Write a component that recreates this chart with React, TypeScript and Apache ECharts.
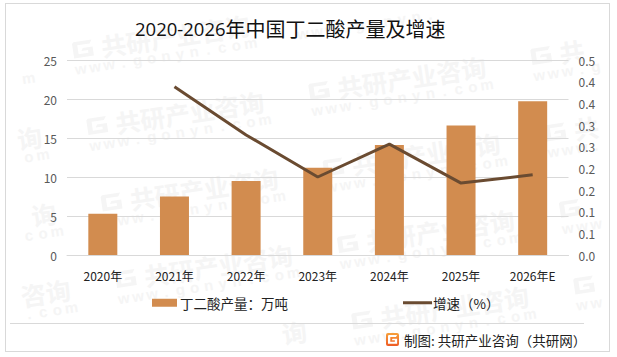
import React, { useEffect, useRef } from "react";
import * as echarts from "echarts";

const categories = ["2020年", "2021年", "2022年", "2023年", "2024年", "2025年", "2026年E"];
const output = [5.3, 7.5, 9.5, 11.2, 14.1, 16.6, 19.7];
const growth = [null, 0.388, 0.277, 0.18, 0.256, 0.166, 0.185];
const rightTickLabels = ["0.0", "0.1", "0.1", "0.2", "0.2", "0.3", "0.3", "0.4", "0.4", "0.5"];
const barName = "丁二酸产量：万吨";
const lineName = "增速（%）";
const titleYears = "2020-2026";
const titleRest = "年中国丁二酸产量及增速";
const sourceText = "制图: 共研产业咨询（共研网）";
const brandChars = ["共", "研", "产", "业", "咨", "询"];
const siteChars = ["w", "w", "w", ".", "g", "o", "n", "y", "n", ".", "c", "o", "m"];

const CJK = '"Noto Sans CJK SC", sans-serif';
const MARK = "#f5f5f5";
const FRAME = "#d9d9d9";
const ANGLE = 0.15;

echarts.graphic.registerShape(
  "gLogo",
  echarts.graphic.extendPath("M2 0H24L21 5H6V18H18V14H10L12 10H24V23H0V2Z", {}) as any
);

// One faint repeat of the watermark, placed glyph by glyph: glyphs that would
// cross the frame are left out, as the frame hides them in the reference.
function watermark(x: number, y: number) {
  const out: any[] = [];
  const cos = Math.cos(ANGLE);
  const sin = Math.sin(ANGLE);
  const at = (u: number, v: number) => [x + u * cos + v * sin, y - u * sin + v * cos];
  const inside = (p: number[], m: number) =>
    p[0] - m > 7 && p[0] + m < 608 && p[1] - m > 5 && p[1] + m < 350;
  const [lx, ly] = at(0, -8);
  if (inside(at(10, 0), 11)) {
    out.push({
      type: "gLogo",
      silent: true,
      x: lx,
      y: ly,
      rotation: ANGLE,
      scaleX: 0.83,
      scaleY: 0.7,
      style: { fill: MARK },
    });
  }
  brandChars.forEach((ch, i) => {
    const p = at(41 + 25 * i, 0);
    if (inside(p, 15)) {
      out.push({
        type: "text",
        silent: true,
        x: p[0],
        y: p[1],
        rotation: ANGLE,
        style: {
          text: ch,
          fill: MARK,
          font: `bold 25px ${CJK}`,
          align: "center",
          verticalAlign: "middle",
        },
      });
    }
  });
  siteChars.forEach((ch, i) => {
    const p = at(5 + 14.3 * i, 19);
    if (inside(p, 9)) {
      out.push({
        type: "text",
        silent: true,
        x: p[0],
        y: p[1],
        rotation: ANGLE,
        style: {
          text: ch,
          fill: MARK,
          font: `bold 15px "Liberation Sans", sans-serif`,
          align: "center",
          verticalAlign: "middle",
        },
      });
    }
  });
  return out;
}

function watermarks() {
  const out: any[] = [];
  for (let c = -1; c <= 3; c++) {
    for (let r = -1; r <= 5; r++) {
      const x = 73 + 222 * c + 14.3 * r;
      const y = 50.5 - 35 * c + 76.5 * r;
      out.push(...watermark(x, y));
    }
  }
  return out;
}

const rule = (left: number, top: number, width: number, height: number): React.CSSProperties => ({
  position: "absolute",
  left,
  top,
  width,
  height,
  background: FRAME,
});

export default function App() {
  const ref = useRef<HTMLDivElement>(null);
  useEffect(() => {
    const chart = echarts.init(ref.current!, null, { renderer: "svg" });
    chart.setOption({
      animation: false,
      backgroundColor: "#ffffff",
      textStyle: { fontFamily: CJK },
      title: {
        text: `{a|${titleYears}}{b|${titleRest}}`,
        left: 135,
        top: 18,
        padding: 0,
        textStyle: {
          fontWeight: "normal",
          rich: {
            a: { fontFamily: '"Open Sans", sans-serif', fontSize: 18.5, color: "#111111", fontWeight: "normal" },
            b: { fontFamily: CJK, fontSize: 20, color: "#111111", fontWeight: "normal" },
          },
        },
      },
      grid: { left: 67, right: 48.5, top: 60, bottom: 102, containLabel: false },
      legend: [
        {
          data: [{ name: barName, icon: "rect" }],
          left: 152,
          top: 296,
          itemWidth: 25,
          itemHeight: 8,
          itemGap: 3,
          padding: 0,
          textStyle: { fontSize: 13.5, color: "#222222", fontFamily: CJK, padding: [0, 0, 0, -2] },
        },
        {
          data: [{ name: lineName, icon: "rect" }],
          left: 403,
          top: 296,
          itemWidth: 29,
          itemHeight: 3,
          padding: 0,
          textStyle: { fontSize: 13.5, color: "#222222", fontFamily: CJK, padding: [0, 0, 0, -4] },
        },
      ],
      xAxis: {
        type: "category",
        data: categories,
        axisTick: { show: false },
        axisLine: { lineStyle: { color: FRAME, width: 1 } },
        axisLabel: { color: "#222222", fontSize: 12, margin: 14, fontFamily: CJK, interval: 0 },
      },
      yAxis: [
        {
          type: "value",
          min: 0,
          max: 25,
          interval: 5,
          axisLine: { show: false },
          axisTick: { show: false },
          splitLine: { lineStyle: { color: FRAME, width: 1 } },
          axisLabel: { color: "#595959", fontSize: 12, margin: 10, fontFamily: CJK },
        },
        {
          type: "value",
          min: 0,
          max: 0.45,
          interval: 0.05,
          position: "right",
          axisLine: { show: false },
          axisTick: { show: false },
          splitLine: { show: false },
          axisLabel: {
            color: "#595959",
            fontSize: 12,
            margin: 10,
            fontFamily: CJK,
            formatter: (_v: number, i: number) => rightTickLabels[i],
          },
        },
      ],
      series: [
        {
          name: barName,
          type: "bar",
          z: 10,
          data: output,
          barWidth: 29,
          itemStyle: { color: "#d28c4f" },
        },
        {
          name: lineName,
          type: "line",
          z: 11,
          yAxisIndex: 1,
          data: growth,
          showSymbol: false,
          symbol: "none",
          lineStyle: { color: "#6a4b31", width: 3 },
          itemStyle: { color: "#6a4b31" },
        },
      ],
      graphic: {
        elements: [
          ...watermarks(),
          {
            type: "rect",
            silent: true,
            shape: { x: 386, y: 333, width: 13, height: 13, r: 2 },
            style: {
              fill: new echarts.graphic.LinearGradient(0, 0, 0, 1, [
                { offset: 0, color: "#f7a13a" },
                { offset: 1, color: "#ee5a24" },
              ]),
            },
          },
          {
            type: "gLogo",
            silent: true,
            x: 388,
            y: 335,
            scaleX: 0.38,
            scaleY: 0.38,
            style: { fill: "#ffffff" },
          },
          {
            type: "text",
            silent: true,
            x: 404,
            y: 340,
            style: {
              text: sourceText,
              fill: "#222222",
              font: `13.5px ${CJK}`,
              verticalAlign: "middle",
            },
          },
        ],
      },
    });
    return () => chart.dispose();
  }, []);
  return (
    <div style={{ position: "absolute", left: 0, top: 0, width: 617, height: 357 }}>
      <div ref={ref} style={{ position: "absolute", left: 0, top: 0, width: 617, height: 357 }} />
      <div style={rule(5, 3, 605, 1)} />
      <div style={rule(5, 351, 605, 1)} />
      <div style={rule(5, 3, 1, 349)} />
      <div style={rule(609, 3, 1, 349)} />
      <div style={rule(10, 323, 574, 1)} />
    </div>
  );
}
